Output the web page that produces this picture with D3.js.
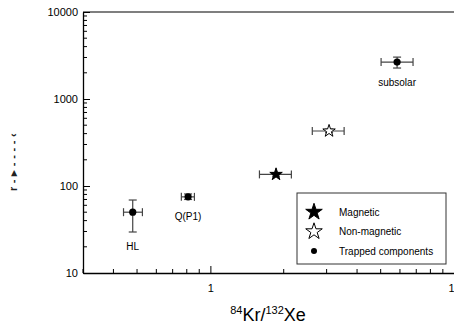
<!DOCTYPE html>
<html>
<head>
<meta charset="utf-8">
<script src="https://cdn.jsdelivr.net/npm/d3@7"></script>
<style>
  body { margin: 0; background: #fff; }
  svg { font-family: Arial, "Liberation Sans", sans-serif; }
  .axis path, .axis line { stroke: #000; }
  .axis text { font-size: 11px; fill: #000; }
</style>
</head>
<body>
<div id="chart"></div>
<script>
// trapped components (filled dots) and the two samples (stars)
var names = ['HL', 'Q(P1)', 'subsolar', 'Magnetic', 'Non-magnetic'];
var kind = ['trapped', 'trapped', 'trapped', 'magnetic', 'nonmagnetic'];
var krXe = [0.48, 0.81, 5.84, 1.86, 3.07];
var krXeLo = [0.44, 0.76, 5.02, 1.59, 2.62];
var krXeHi = [0.526, 0.86, 6.79, 2.15, 3.54];
var yVal = [50, 75, 2660, 136, 429];
var yLo = [29.6, 70, 2270, 130, 410];
var yHi = [69, 81, 3030, 142, 450];
var xTicks = [1, 10];
var yTicks = [10, 100, 1000, 10000];
var legendNames = ['Magnetic', 'Non-magnetic', 'Trapped components'];

var W = 454, H = 325;
var margin = { top: 12, right: 0, bottom: 52, left: 83 };
var w = W - margin.left - margin.right,
    h = H - margin.top - margin.bottom;

var svg = d3.select('#chart').append('svg')
  .attr('width', W)
  .attr('height', H);
var g = svg.append('g')
  .attr('transform', 'translate(' + margin.left + ',' + margin.top + ')');

var x = d3.scaleLog().domain([0.3, 10]).range([0, w]);
var y = d3.scaleLog().domain([10, 10000]).range([h, 0]);

// minor ticks for both axes
var xMinor = [0.3, 0.4, 0.5, 0.6, 0.7, 0.8, 0.9, 2, 3, 4, 5, 6, 7, 8, 9];
var yMinor = [];
[10, 100, 1000].forEach(function(d) {
  for (var k = 2; k < 10; k++) yMinor.push(d * k);
});

// x axis (ticks point inward)
var xAxis = d3.axisBottom(x).tickValues(xTicks).tickFormat(d3.format('d'))
  .tickSizeInner(-7).tickSizeOuter(0).tickPadding(11);
var gx = g.append('g').attr('class', 'axis')
  .attr('transform', 'translate(0,' + h + ')')
  .call(xAxis);
gx.select('.domain').attr('stroke-width', 1.3);
gx.selectAll('.minor').data(xMinor).enter().append('line')
  .attr('x1', function(d) { return x(d); }).attr('x2', function(d) { return x(d); })
  .attr('y1', 0).attr('y2', -4).attr('stroke', '#000');

// y axis
var yAxis = d3.axisLeft(y).tickValues(yTicks).tickFormat(d3.format('d'))
  .tickSizeInner(-7).tickSizeOuter(0).tickPadding(5);
var gy = g.append('g').attr('class', 'axis').call(yAxis);
gy.select('.domain').attr('stroke-width', 1.3);
gy.selectAll('.minor').data(yMinor).enter().append('line')
  .attr('x1', 0).attr('x2', 4)
  .attr('y1', function(d) { return y(d); }).attr('y2', function(d) { return y(d); })
  .attr('stroke', '#000');

// top frame line
g.append('line').attr('x1', 0).attr('x2', w).attr('y1', 0).attr('y2', 0)
  .attr('stroke', '#000').attr('stroke-width', 1.2);

// axis titles
var xt = svg.append('text')
  .attr('x', 268).attr('y', 321)
  .attr('text-anchor', 'middle')
  .attr('font-size', '18px');
xt.append('tspan').attr('font-size', '11px').attr('dy', '-7').text('84');
xt.append('tspan').attr('dy', '7').text('Kr/');
xt.append('tspan').attr('font-size', '11px').attr('dy', '-7').text('132');
xt.append('tspan').attr('dy', '7').text('Xe');

// y title (rendered as garbled symbol glyphs in the reference)
svg.append('text')
  .attr('transform', 'translate(17,162) rotate(-90)')
  .attr('text-anchor', 'middle')
  .attr('font-size', '11px')
  .attr('font-weight', 'bold')
  .attr('letter-spacing', '0.3px')
  .attr('fill', '#222')
  .text('r - \u25B8    - - - - \u2039');

// data
var data = names.map(function(n, i) {
  return { name: n, kind: kind[i], x: krXe[i], x0: krXeLo[i], x1: krXeHi[i],
           y: yVal[i], y0: yLo[i], y1: yHi[i] };
});

var pts = g.selectAll('.pt').data(data).enter().append('g').attr('class', 'pt');
var ebColor = '#444';
// horizontal error bars
pts.append('line')
  .attr('x1', function(d) { return x(d.x0); }).attr('x2', function(d) { return x(d.x1); })
  .attr('y1', function(d) { return y(d.y); }).attr('y2', function(d) { return y(d.y); })
  .attr('stroke', ebColor).attr('stroke-width', 1.2);
pts.append('line')
  .attr('x1', function(d) { return x(d.x0); }).attr('x2', function(d) { return x(d.x0); })
  .attr('y1', function(d) { return y(d.y) - 4; }).attr('y2', function(d) { return y(d.y) + 4; })
  .attr('stroke', ebColor).attr('stroke-width', 1.2);
pts.append('line')
  .attr('x1', function(d) { return x(d.x1); }).attr('x2', function(d) { return x(d.x1); })
  .attr('y1', function(d) { return y(d.y) - 4; }).attr('y2', function(d) { return y(d.y) + 4; })
  .attr('stroke', ebColor).attr('stroke-width', 1.2);
// vertical error bars
pts.append('line')
  .attr('x1', function(d) { return x(d.x); }).attr('x2', function(d) { return x(d.x); })
  .attr('y1', function(d) { return y(d.y0); }).attr('y2', function(d) { return y(d.y1); })
  .attr('stroke', ebColor).attr('stroke-width', 1.2);
[ 'y0', 'y1' ].forEach(function(k) {
  pts.append('line')
    .attr('x1', function(d) { return x(d.x) - 4; }).attr('x2', function(d) { return x(d.x) + 4; })
    .attr('y1', function(d) { return y(d[k]); }).attr('y2', function(d) { return y(d[k]); })
    .attr('stroke', ebColor).attr('stroke-width', 1.2);
});

var star = d3.symbol().type(d3.symbolStar);
pts.each(function(d) {
  var s = d3.select(this);
  var tr = 'translate(' + x(d.x) + ',' + y(d.y) + ')';
  if (d.kind === 'trapped') {
    s.append('circle').attr('transform', tr).attr('r', 3.6).attr('fill', '#000');
  } else {
    s.append('path').attr('transform', tr)
      .attr('d', star.size(48)())
      .attr('fill', d.kind === 'magnetic' ? '#000' : '#fff')
      .attr('stroke', '#000').attr('stroke-width', 1);
  }
});

// point labels
var labelDy = { 'HL': 34, 'Q(P1)': 19, 'subsolar': 20 };
g.selectAll('.lbl').data(data.filter(function(d) { return d.kind === 'trapped'; }))
  .enter().append('text')
  .attr('x', function(d) { return x(d.x); })
  .attr('y', function(d) { return y(d.y) + labelDy[d.name] + 4; })
  .attr('text-anchor', 'middle')
  .attr('font-size', '10px')
  .text(function(d) { return d.name; });

// legend
var lg = svg.append('g').attr('transform', 'translate(297,193)');
lg.append('rect').attr('width', 149).attr('height', 71)
  .attr('fill', '#fff').attr('stroke', '#333').attr('stroke-width', 1);
legendNames.forEach(function(n, i) {
  var cy = 19 + i * 19.5;
  if (i < 2) {
    lg.append('path').attr('transform', 'translate(17,' + cy + ')')
      .attr('d', star.size(85)())
      .attr('fill', i === 0 ? '#000' : '#fff')
      .attr('stroke', '#000').attr('stroke-width', 1);
  } else {
    lg.append('circle').attr('cx', 17).attr('cy', cy).attr('r', 3).attr('fill', '#000');
  }
  lg.append('text').attr('x', 42).attr('y', cy + 3.5)
    .attr('font-size', '10px').text(n);
});
</script>
</body>
</html>
